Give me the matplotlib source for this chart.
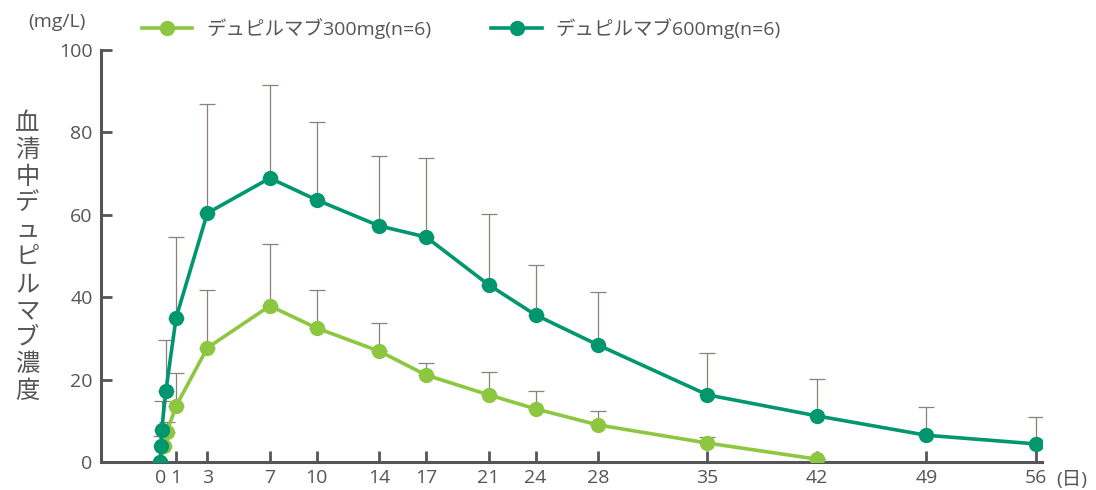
import numpy as np
from matplotlib import pyplot as plt

plt.rcParams['font.family'] = ['Open Sans', 'Noto Sans CJK JP', 'DejaVu Sans']

# 300mg group
days_300 = [0, 0.25, 0.42, 1, 3, 7, 10, 14, 17, 21, 24, 28, 35, 42]
mean_300 = [0, 4.0, 7.4, 13.6, 27.7, 37.9, 32.5, 26.9, 21.1, 16.3, 12.9, 9.0, 4.6, 0.7]
upper_300 = [0, 6.3, 9.8, 21.6, 41.7, 52.9, 41.7, 33.7, 24.0, 21.8, 17.2, 12.4, 6.1, 0.7]

# 600mg group
days_600 = [0, 0.02, 0.08, 0.35, 1, 3, 7, 10, 14, 17, 21, 24, 28, 35, 42, 49, 56]
mean_600 = [0, 4.0, 7.8, 17.3, 35.0, 60.4, 68.9, 63.6, 57.3, 54.6, 43.0, 35.7, 28.4, 16.3, 11.2, 6.5, 4.4]
upper_600 = [0, 6.3, 14.9, 29.5, 54.6, 86.9, 91.5, 82.5, 74.3, 73.8, 60.2, 47.8, 41.3, 26.5, 20.1, 13.3, 10.9]

x_ticks = [0, 1, 3, 7, 10, 14, 17, 21, 24, 28, 35, 42, 49, 56]
y_ticks = [0, 20, 40, 60, 80, 100]

light = '#8dc63f'
dark = '#00966e'
err_color = '#8c807a'
axis_color = '#555555'

fig = plt.figure(figsize=(10.96, 4.9), dpi=100)
ax = fig.add_axes([0.0922, 0.0571, 0.8585, 0.8409])

for days, mean, upper in [(days_300, mean_300, upper_300), (days_600, mean_600, upper_600)]:
    err = np.array(upper) - np.array(mean)
    ax.errorbar(days, mean, yerr=[np.zeros_like(err), err], fmt='none',
                ecolor=err_color, elinewidth=0.9, capsize=5.8, capthick=0.9, zorder=1)

ax.plot(days_300, mean_300, '-o', color=light, lw=2.6, ms=10, zorder=3,
        label='デュピルマブ300mg(n=6)')
ax.plot(days_600, mean_600, '-o', color=dark, lw=2.6, ms=10, zorder=4,
        label='デュピルマブ600mg(n=6)')

ax.set_xlim(-3.8, 56.4)
ax.set_ylim(0, 100)
ax.set_xticks(x_ticks)
ax.set_yticks(y_ticks)
ax.tick_params(direction='in', length=8, width=2, color=axis_color,
               labelcolor=axis_color, labelsize=14)
ax.tick_params(axis='x', pad=5)
ax.tick_params(axis='y', pad=6)
for s in ['top', 'right']:
    ax.spines[s].set_visible(False)
for s in ['left', 'bottom']:
    ax.spines[s].set_color(axis_color)
    ax.spines[s].set_linewidth(2.2)

fig.text(0.025, 0.475, '\n'.join('血清中デュピルマブ濃度'), ha='center', va='center',
         fontsize=17.5, color=axis_color, linespacing=1.04, family='Noto Sans CJK JP')
fig.text(0.026, 0.955, '(mg/L)', ha='left', va='center', fontsize=14, color=axis_color)
fig.text(0.992, 0.02, '(日)', ha='right', va='center', fontsize=14, color=axis_color)

ax.legend(loc='lower left', bbox_to_anchor=(0.032, 1.0), ncol=2, frameon=False,
          labelcolor=axis_color, handlelength=2.6, handletextpad=0.7,
          columnspacing=3.1, borderaxespad=0.15,
          prop={'family': ['Open Sans', 'Noto Sans CJK JP'], 'size': 14})

fig.savefig('out.png', dpi=100)
